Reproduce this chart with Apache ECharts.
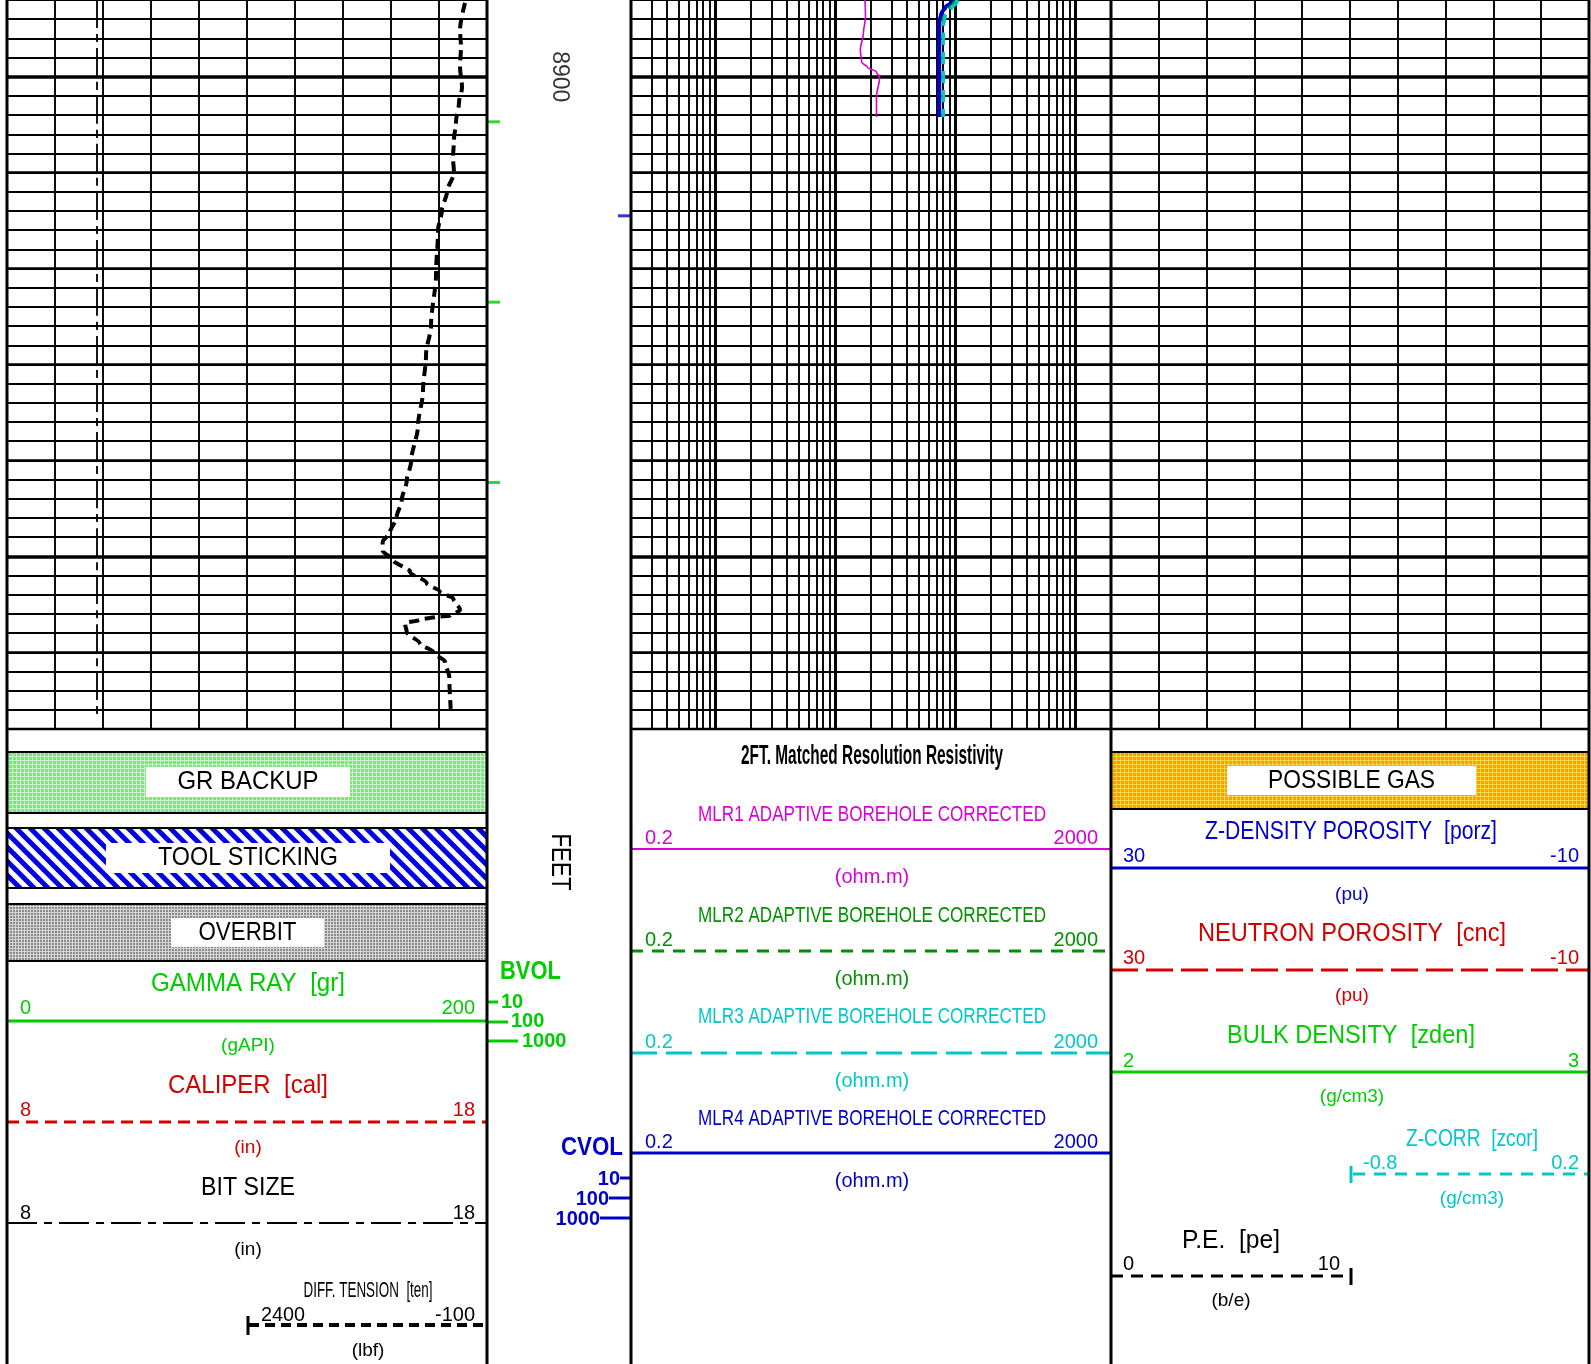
<!DOCTYPE html>
<html><head><meta charset="utf-8">
<script src="https://cdn.jsdelivr.net/npm/echarts@6/dist/echarts.min.js"></script>
<style>html,body{margin:0;padding:0;background:#fff;}#c{width:1591px;height:1364px;}</style>
</head><body><div id="c"></div>
<script>
// ---------------- data ----------------
const depthTop = 8892, depthBottom = 8968, depthStep = 2;
const depthLabels = [8900];
const mediumDepths = [8910, 8920, 8930, 8940, 8960];
const heavyDepths = [8900, 8950];
const resGridValues = [0.2,0.3,0.4,0.5,0.6,0.7,0.8,0.9,2,3,4,5,6,7,8,9,20,30,40,50,60,70,80,90,200,300,400,500,600,700,800,900,2000];
const resDecades = [1, 10, 100, 1000];
const greenTickDepths = [8904.7, 8923.5, 8942.3];
const blueTickDepths = [8914.5];

const bitSizeDepth = [8892, 8966.6];
const bitSizeValue = [9.875, 9.875];

const tensionDepth = [8892.3, 8895.1, 8896.9, 8899.0, 8901.1, 8902.7, 8904.7, 8906.6, 8908.4, 8910.0, 8912.0, 8913.9, 8916.0, 8920.6, 8925.9, 8929.0, 8932.8, 8936.4, 8940.2, 8942.1, 8944.2, 8945.9, 8947.5, 8948.5, 8949.4, 8950.4, 8951.6, 8952.8, 8953.7, 8954.4, 8955.6, 8956.2, 8956.3, 8956.6, 8957.0, 8957.9, 8959.1, 8960.0, 8961.0, 8962.6, 8965.9];
const tensionValue = [129, 181, 171, 181, 160, 192, 223, 244, 254, 244, 317, 369, 410, 431, 483, 535, 567, 619, 692, 736, 789, 841, 910, 987, 987, 876, 702, 528, 390, 251, 181, 285, 424, 598, 754, 736, 598, 459, 337, 293, 278];

const mlr1Depth = [8892.0, 8893.8, 8895.4, 8897.2, 8898.5, 8899.0, 8899.5, 8900.1, 8902.1, 8904.2];
const mlr1Value = [17.8, 18.0, 17.3, 16.3, 16.7, 18.7, 22.2, 23.6, 22.2, 22.2];
const mlr2Depth = [8892.0, 8892.4, 8893.0, 8894.0, 8904.2];
const mlr2Value = [104, 97, 88, 80, 80];
const mlr3Depth = [8892.0, 8892.3, 8892.8, 8893.6, 8894.8, 8904.2];
const mlr3Value = [106, 103, 94, 83, 80, 80];
const mlr4Depth = [8892.0, 8892.3, 8892.7, 8893.4, 8894.4, 8904.2];
const mlr4Value = [96, 94, 84, 77, 74, 74];

// ---------------- helpers ----------------
const FONT = "'Liberation Sans', Arial, Helvetica, sans-serif";
const mctx = document.createElement('canvas').getContext('2d');
const zip = (xs, ys) => xs.map((x, i) => [x, ys[i]]);

function T(x, y, text, color, size, opt) {
  opt = opt || {};
  const weight = opt.bold ? 'bold' : 'normal';
  let sx = 1;
  if (opt.w) { mctx.font = weight + ' ' + size + 'px ' + FONT; sx = opt.w / mctx.measureText(text).width; }
  const align = opt.align || 'center';
  return { type: 'text', x: x, y: y, scaleX: sx, rotation: opt.rot || 0, z: 120, silent: true,
    style: { text: text, fill: color, fontSize: size, fontFamily: FONT, fontWeight: weight,
      align: align, verticalAlign: 'middle', textAlign: align, textVerticalAlign: 'middle' } };
}
function H(x1, x2, y, color, w, dash) {
  return { type: 'line', z: 110, silent: true, shape: { x1: x1, y1: y, x2: x2, y2: y },
    style: { stroke: color, lineWidth: w, lineDash: dash || null } };
}
function V(x, y1, y2, color, w) {
  return { type: 'line', z: 115, silent: true, shape: { x1: x, y1: y1, x2: x, y2: y2 },
    style: { stroke: color, lineWidth: w } };
}
function R(x, y, w, h, fill, z) {
  return { type: 'rect', z: z || 100, silent: true, shape: { x: x, y: y, width: w, height: h }, style: { fill: fill } };
}
function pat(w, h, draw) {
  const c = document.createElement('canvas'); c.width = w; c.height = h;
  draw(c.getContext('2d'), w, h);
  return { image: c, repeat: 'repeat' };
}
const meshPat = (base, light, n) => pat(n, n, (g) => {
  g.fillStyle = base; g.fillRect(0, 0, n, n);
  g.fillStyle = light; g.fillRect(0, 0, n, 1); g.fillRect(0, 0, 1, n);
});
const greenPat = meshPat('#7fe37f', '#c8f6c8', 4);
const grayPat = meshPat('#8a8a8a', '#d6d6d6', 3);
const orangePat = meshPat('#ff9c00', '#ffd84a', 4);
const stripePat = pat(14, 14, (g) => {
  g.fillStyle = '#fff'; g.fillRect(0, 0, 14, 14);
  g.strokeStyle = '#0000e6'; g.lineWidth = 5;
  [-14, 0, 14].forEach(k => { g.beginPath(); g.moveTo(k - 2, -2); g.lineTo(k + 16, 16); g.stroke(); });
});

// ---------------- colors ----------------
const C = { black: '#000', gr: '#00cc00', red: '#d40000', mag: '#d800d8', dgreen: '#009000',
  cyan: '#00c8c8', blue: '#0000c8' };

// ---------------- layout ----------------
const GT = 0, GH = 729;
const X1 = 7, X1b = 487, X2 = 631, X3 = 1111, X3b = 1589;

const grids = [
  { left: X1, top: GT, width: X1b - X1, height: GH },
  { left: (X1 + X1b) / 2, top: GT, width: (X1b - X1) / 2, height: GH },
  { left: X1b, top: GT, width: X2 - X1b, height: GH },
  { left: X2, top: GT, width: X3 - X2, height: GH },
  { left: X3, top: GT, width: X3b - X3, height: GH }
];
const thin = { color: '#000', width: 1.9 };
const hidden = { axisLine: { show: false }, axisTick: { show: false }, axisLabel: { show: false } };
const xAxes = [
  Object.assign({ gridIndex: 0, type: 'value', min: 8, max: 18, interval: 1, splitLine: { show: true, lineStyle: thin } }, hidden),
  Object.assign({ gridIndex: 1, type: 'value', min: -100, max: 2400, inverse: true, splitLine: { show: false } }, hidden),
  Object.assign({ gridIndex: 2, type: 'value', min: 0, max: 1, splitLine: { show: false } }, hidden),
  Object.assign({ gridIndex: 3, type: 'log', logBase: 10, min: 0.2, max: 2000, splitLine: { show: false } }, hidden),
  Object.assign({ gridIndex: 4, type: 'value', min: 0, max: 20, interval: 2, splitLine: { show: true, lineStyle: thin } }, hidden)
];
const yAxes = [0, 1, 2, 3, 4].map(i => Object.assign({ gridIndex: i, type: 'value', inverse: true,
  min: depthTop, max: depthBottom, interval: depthStep,
  splitLine: { show: (i === 0 || i === 3 || i === 4), lineStyle: thin } }, hidden));

function depthLines(gi, depths, width) {
  return { type: 'line', xAxisIndex: gi, yAxisIndex: gi, data: [], silent: true, z: 3,
    markLine: { symbol: ['none', 'none'], silent: true, animation: false, label: { show: false },
      lineStyle: { color: '#000', width: width, type: 'solid' }, data: depths.map(d => ({ yAxis: d })) } };
}
function resLines(values, width) {
  return { type: 'line', xAxisIndex: 3, yAxisIndex: 3, data: [], silent: true, z: 3,
    markLine: { symbol: ['none', 'none'], silent: true, animation: false, label: { show: false },
      lineStyle: { color: '#000', width: width, type: 'solid' }, data: values.map(v => ({ xAxis: v })) } };
}
function curve(gi, xs, ys, color, width, type, z) {
  return { type: 'line', xAxisIndex: gi, yAxisIndex: gi, data: zip(xs, ys), showSymbol: false,
    symbol: 'none', smooth: 0.3, smoothMonotone: 'y', z: z || 10, silent: true,
    lineStyle: { color: color, width: width, type: type || 'solid', cap: 'butt' } };
}

const series = [];
[0, 3, 4].forEach(g => { series.push(depthLines(g, mediumDepths, 2.7)); series.push(depthLines(g, heavyDepths, 3.6)); });
series.push(resLines(resGridValues, 1.9));
series.push(resLines(resDecades, 3));
series.push(curve(0, bitSizeValue, bitSizeDepth, C.black, 1.8, [28, 6, 8, 6], 9));
series.push(curve(1, tensionValue, tensionDepth, C.black, 4, [10, 6], 11));
series.push(curve(3, mlr1Value, mlr1Depth, C.mag, 1.6, 'solid', 10));
series.push(curve(3, mlr4Value, mlr4Depth, C.blue, 4, 'solid', 11));
series.push(curve(3, mlr2Value, mlr2Depth, C.dgreen, 3.5, [12, 7], 12));
series.push(curve(3, mlr3Value, mlr3Depth, C.cyan, 3.5, [12, 7], 13));
series.push({ type: 'scatter', xAxisIndex: 2, yAxisIndex: 2, silent: true, z: 20,
  data: depthLabels.map(d => [0.5, d]), symbolSize: 1, itemStyle: { color: 'rgba(0,0,0,0)' },
  label: { show: true, position: 'inside', rotate: -90, formatter: p => String(p.value[1]),
    fontSize: 23, fontFamily: FONT, color: '#000' } });
series.push({ type: 'scatter', xAxisIndex: 2, yAxisIndex: 2, silent: true, z: 20,
  data: greenTickDepths.map(d => [0, d]), symbol: 'rect', symbolSize: [13, 3], symbolOffset: [6.5, 0],
  itemStyle: { color: C.gr } });
series.push({ type: 'scatter', xAxisIndex: 2, yAxisIndex: 2, silent: true, z: 20,
  data: blueTickDepths.map(d => [1, d]), symbol: 'rect', symbolSize: [13, 3], symbolOffset: [-6.5, 0],
  itemStyle: { color: C.blue } });

// ---------------- header (legend area) ----------------
const E = [];
[X1, X1b, X2, X3, X3b].forEach(x => E.push(V(x, 0, 1364, '#000', 3)));
[[X1, X1b], [X2, X3], [X3, X3b]].forEach(p => E.push(H(p[0], p[1], GT + GH, '#000', 2.5)));

function band(x1, x2, y1, y2, fill, box, label, w) {
  E.push(R(x1, y1, x2 - x1, y2 - y1, fill, 100));
  E.push(H(x1, x2, y1, '#000', 2)); E.push(H(x1, x2, y2, '#000', 2));
  E.push(R(box[0], box[1], box[2] - box[0], box[3] - box[1], '#fff', 105));
  E.push(T((box[0] + box[2]) / 2, (box[1] + box[3]) / 2 + 0.5, label, '#000', 25, { w: w }));
}
const c1 = 248, c2 = 872, c3 = 1352;
band(X1, X1b, 752, 813, greenPat, [146, 767, 350, 797], 'GR BACKUP', 141);
band(X1, X1b, 828, 888, stripePat, [106, 843, 390, 873], 'TOOL STICKING', 180);
band(X1, X1b, 904, 961, grayPat, [171, 918, 324, 947], 'OVERBIT', 98);
band(X3, X3b, 752, 809, orangePat, [1227, 766, 1476, 795], 'POSSIBLE GAS', 167);

// track 1 legend
E.push(T(c1, 984, 'GAMMA RAY  [gr]', C.gr, 25, { w: 194 }));
E.push(T(20, 1008, '0', C.gr, 20, { align: 'left' }));
E.push(T(475, 1008, '200', C.gr, 20, { align: 'right' }));
E.push(H(X1, X1b, 1021, C.gr, 3));
E.push(T(c1, 1046, '(gAPI)', C.gr, 19));
E.push(T(c1, 1086, 'CALIPER  [cal]', C.red, 25, { w: 160 }));
E.push(T(20, 1110, '8', C.red, 20, { align: 'left' }));
E.push(T(475, 1110, '18', C.red, 20, { align: 'right' }));
E.push(H(X1, X1b, 1122, C.red, 3, [12, 7]));
E.push(T(c1, 1148, '(in)', C.red, 19));
E.push(T(c1, 1188, 'BIT SIZE', '#000', 25, { w: 94 }));
E.push(T(20, 1213, '8', '#000', 20, { align: 'left' }));
E.push(T(475, 1213, '18', '#000', 20, { align: 'right' }));
E.push(H(X1, X1b, 1223, '#000', 2, [30, 7, 8, 7]));
E.push(T(c1, 1250, '(in)', '#000', 19));
E.push(T(368, 1291, 'DIFF. TENSION  [ten]', '#000', 22, { w: 129 }));
E.push(T(261, 1315, '2400', '#000', 20, { align: 'left', w: 44 }));
E.push(T(475, 1315, '-100', '#000', 20, { align: 'right', w: 40 }));
E.push(H(249, X1b, 1325, '#000', 4, [10, 6]));
E.push(V(248, 1316, 1335, '#000', 3));
E.push(T(368, 1351, '(lbf)', '#000', 19));

// depth track
E.push(T(559, 862, 'FEET', '#000', 27, { rot: -Math.PI / 2, w: 57 }));
E.push(T(530.5, 972, 'BVOL', C.gr, 25, { bold: true, w: 61 }));
E.push(H(X1b, 498, 1002, C.gr, 3)); E.push(T(501, 1002, '10', C.gr, 20, { bold: true, align: 'left' }));
E.push(H(X1b, 508, 1022, C.gr, 3)); E.push(T(511, 1021, '100', C.gr, 20, { bold: true, align: 'left' }));
E.push(H(X1b, 518, 1041, C.gr, 3)); E.push(T(522, 1041, '1000', C.gr, 20, { bold: true, align: 'left' }));
E.push(T(592, 1148, 'CVOL', C.blue, 25, { bold: true, w: 62 }));
E.push(H(620, X2, 1178, C.blue, 3)); E.push(T(620, 1179, '10', C.blue, 20, { bold: true, align: 'right' }));
E.push(H(609, X2, 1198, C.blue, 3)); E.push(T(609, 1199, '100', C.blue, 20, { bold: true, align: 'right' }));
E.push(H(600, X2, 1218, C.blue, 3)); E.push(T(600, 1219, '1000', C.blue, 20, { bold: true, align: 'right' }));

// track 2 legend
E.push(T(c2, 757, '2FT. Matched Resolution Resistivity', '#000', 27, { bold: true, w: 262 }));
const resHdr = [
  ['MLR1 ADAPTIVE BOREHOLE CORRECTED', C.mag, 815, 849, 2, null],
  ['MLR2 ADAPTIVE BOREHOLE CORRECTED', C.dgreen, 916, 951, 3, [12, 9]],
  ['MLR3 ADAPTIVE BOREHOLE CORRECTED', C.cyan, 1017, 1053, 3, [26, 9]],
  ['MLR4 ADAPTIVE BOREHOLE CORRECTED', C.blue, 1119, 1153, 3, null]
];
resHdr.forEach(r => {
  E.push(T(c2, r[2], r[0], r[1], 22, { w: 348 }));
  E.push(T(645, r[3] - 11, '0.2', r[1], 20, { align: 'left' }));
  E.push(T(1098, r[3] - 11, '2000', r[1], 20, { align: 'right' }));
  E.push(H(X2, X3, r[3], r[1], r[4], r[5]));
  E.push(T(c2, r[3] + 28, '(ohm.m)', r[1], 20));
});

// track 3 legend
E.push(T(1351, 832, 'Z-DENSITY POROSITY  [porz]', C.blue, 25, { w: 292 }));
E.push(T(1123, 856, '30', C.blue, 20, { align: 'left' }));
E.push(T(1579, 856, '-10', C.blue, 20, { align: 'right' }));
E.push(H(X3, X3b, 868, C.blue, 3));
E.push(T(c3, 895, '(pu)', C.blue, 19));
E.push(T(c3, 934, 'NEUTRON POROSITY  [cnc]', C.red, 25, { w: 308 }));
E.push(T(1123, 958, '30', C.red, 20, { align: 'left' }));
E.push(T(1579, 958, '-10', C.red, 20, { align: 'right' }));
E.push(H(X3, X3b, 970, C.red, 3, [27, 8]));
E.push(T(c3, 996, '(pu)', C.red, 19));
E.push(T(1351, 1036, 'BULK DENSITY  [zden]', C.gr, 25, { w: 248 }));
E.push(T(1123, 1061, '2', C.gr, 20, { align: 'left' }));
E.push(T(1579, 1061, '3', C.gr, 20, { align: 'right' }));
E.push(H(X3, X3b, 1072, C.gr, 3));
E.push(T(c3, 1097, '(g/cm3)', C.gr, 19));
E.push(T(1472, 1139, 'Z-CORR  [zcor]', C.cyan, 24, { w: 132 }));
E.push(T(1363, 1163, '-0.8', C.cyan, 20, { align: 'left' }));
E.push(T(1579, 1163, '0.2', C.cyan, 20, { align: 'right' }));
E.push(H(1353, X3b, 1174, C.cyan, 3, [12, 9]));
E.push(V(1351, 1166, 1183, C.cyan, 3));
E.push(T(1472, 1199, '(g/cm3)', C.cyan, 19));
E.push(T(1231, 1241, 'P.E.  [pe]', '#000', 25, { w: 98 }));
E.push(T(1123, 1264, '0', '#000', 20, { align: 'left' }));
E.push(T(1340, 1264, '10', '#000', 20, { align: 'right' }));
E.push(H(X3, 1349, 1276, '#000', 3, [12, 8]));
E.push(V(1351, 1268, 1285, '#000', 3));
E.push(T(1231, 1301, '(b/e)', '#000', 19));

const chart = echarts.init(document.getElementById('c'), null, { renderer: 'canvas' });
chart.setOption({
  animation: false,
  backgroundColor: '#fff',
  grid: grids,
  xAxis: xAxes,
  yAxis: yAxes,
  series: series,
  graphic: { elements: E }
});
</script>
</body></html>
